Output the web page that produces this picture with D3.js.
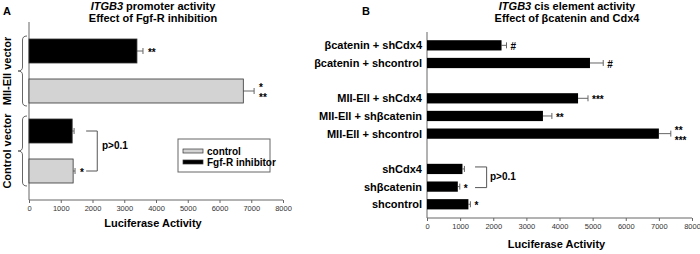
<!DOCTYPE html>
<html>
<head>
<meta charset="utf-8">
<script src="https://cdn.jsdelivr.net/npm/d3@7"></script>
<style>
  body { margin: 0; background: #fff; }
  svg { display: block; font-family: "Liberation Sans", Arial, sans-serif; }
  .tick text { font-size: 7.5px; fill: #333; font-weight: normal; }
  .axis path, .axis line { stroke: #666; }
  .lbl { font-weight: bold; font-size: 11px; fill: #000; }
  .mark { font-weight: bold; font-size: 10px; fill: #000; }
</style>
</head>
<body>
<div id="chart"></div>
<script>
// Panel A: ITGB3 promoter, grouped by vector
const aGroups = ["MII-Ell vector", "Control vector"];
const aSeries = ["Fgf-R inhibitor", "control"];
const aInhibitor = [3400, 1360];
const aInhibitorErr = [190, 60];
const aControl = [6750, 1390];
const aControlErr = [340, 60];
const aInhibitorMarks = ["**", ""];
const aControlMarks = ["*\n**", "*"];
const ticks = [0, 1000, 2000, 3000, 4000, 5000, 6000, 7000, 8000];

// Panel B: cis element, blank rows are gaps
const bCategories = ["βcatenin + shCdx4", "βcatenin + shcontrol", "gap1", "MII-Ell + shCdx4",
  "MII-Ell + shβcatenin", "MII-Ell + shcontrol", "gap2", "shCdx4", "shβcatenin", "shcontrol"];
const bValues = [2250, 4920, null, 4560, 3500, 7000, null, 1070, 930, 1250];
const bErr = [150, 400, null, 300, 270, 360, null, 60, 60, 60];
const bMarks = ["#", "#", null, "***", "**", "**\n***", null, "", "*", "*"];

const W = 700, H = 254;
const svg = d3.select("#chart").append("svg").attr("width", W).attr("height", H);

function brace(x, y0, y1, w) {
  const ym = (y0 + y1) / 2, xm = x - w / 2, r = 4;
  return `M${x},${y0} Q${xm},${y0} ${xm},${y0 + r} L${xm},${ym - r} Q${xm},${ym} ${x - w},${ym}` +
    ` Q${xm},${ym} ${xm},${ym + r} L${xm},${y1 - r} Q${xm},${y1} ${x},${y1}`;
}

function title(g, cx, italic, rest, line2) {
  const t = g.append("text").attr("class", "lbl").attr("x", cx).attr("y", 10).attr("text-anchor", "middle");
  t.append("tspan").attr("font-style", "italic").text(italic);
  t.append("tspan").text(rest);
  g.append("text").attr("class", "lbl").attr("x", cx).attr("y", 22).attr("text-anchor", "middle").text(line2);
}

// significance marks, stacked lines go in one text element
function marks(g, x, yc, txt) {
  const lines = txt.split("\n");
  const stacked = lines.length > 1;
  const t = g.append("text").attr("class", "mark").attr("font-size", stacked ? 8.5 : 10);
  lines.forEach((s, i) => {
    t.append("tspan").attr("x", x)
      .attr("y", yc + 6 + (i - (lines.length - 1) / 2) * 10).text(s);
  });
}

function errBar(g, x0, x1, yc, cap) {
  g.append("line").attr("x1", x0).attr("x2", x1).attr("y1", yc).attr("y2", yc).attr("stroke", "#666");
  g.append("line").attr("x1", x1).attr("x2", x1).attr("y1", yc - cap).attr("y2", yc + cap).attr("stroke", "#666");
}

// ---------- Panel A ----------
const gA = svg.append("g");
const xA = d3.scaleLinear().domain([0, 8000]).range([29, 283]);
const rowsA = [];
aGroups.forEach((grp, i) => {
  rowsA.push({ key: grp + "|inh", group: grp, v: aInhibitor[i], e: aInhibitorErr[i], m: aInhibitorMarks[i], fill: "#000" });
  rowsA.push({ key: grp + "|ctl", group: grp, v: aControl[i], e: aControlErr[i], m: aControlMarks[i], fill: "#d3d3d3" });
});
const yA = d3.scaleBand().domain(rowsA.map(d => d.key)).range([23, 199]).padding(0.4);

gA.append("text").attr("class", "lbl").attr("x", 3).attr("y", 15).attr("font-size", 13).text("A");
title(gA, 153, "ITGB3", " promoter activity", "Effect of Fgf-R inhibition");

gA.append("g").attr("class", "axis").attr("transform", "translate(0,200)")
  .call(d3.axisBottom(xA).tickValues(ticks).tickSize(3).tickPadding(3).tickFormat(d3.format("d")))
  .call(g => g.select(".domain").attr("d", `M${xA(0)},0H${xA(8000)}`));
gA.append("line").attr("x1", xA(0)).attr("x2", xA(0)).attr("y1", 22).attr("y2", 200).attr("stroke", "#666");
gA.append("text").attr("class", "lbl").attr("x", (xA(0) + xA(8000)) / 2 - 3).attr("y", 227)
  .attr("text-anchor", "middle").attr("font-size", 10.5).text("Luciferase Activity");

rowsA.forEach(d => {
  const yc = yA(d.key) + yA.bandwidth() / 2;
  errBar(gA, xA(d.v), xA(d.v + d.e), yc, 3);
});
gA.selectAll(".barA").data(rowsA).join("rect").attr("class", "barA")
  .attr("x", xA(0)).attr("y", d => yA(d.key))
  .attr("width", d => xA(d.v) - xA(0)).attr("height", yA.bandwidth())
  .attr("fill", d => d.fill).attr("stroke", "#333").attr("stroke-width", 0.8);
rowsA.forEach(d => {
  if (d.m) marks(gA, xA(d.v + d.e) + 5, yA(d.key) + yA.bandwidth() / 2 - 1, d.m);
});

// group braces and labels
aGroups.forEach((grp, i) => {
  const top = yA(grp + "|inh") - 3, bot = yA(grp + "|ctl") + yA.bandwidth() + 3;
  gA.append("path").attr("d", brace(27, top, bot, 9)).attr("fill", "none").attr("stroke", "#555").attr("stroke-width", 0.9);
  gA.append("text").attr("class", "lbl").attr("font-size", 9.8).attr("text-anchor", "middle")
    .attr("transform", `translate(11,${(top + bot) / 2}) rotate(-90)`).text(grp);
});

// p>0.1 bracket between control-vector bars
{
  const y0 = yA("Control vector|inh") + yA.bandwidth() / 2, y1 = yA("Control vector|ctl") + yA.bandwidth() / 2;
  gA.append("path").attr("d", `M${xA(1800)},${y0}H${xA(2150)}V${y1}H${xA(1800)}`)
    .attr("fill", "none").attr("stroke", "#555");
  gA.append("text").attr("class", "mark").attr("font-size", 9).attr("x", xA(2300)).attr("y", (y0 + y1) / 2 - 2).text("p>0.1");
}

// legend
{
  const lg = gA.append("g").attr("transform", "translate(178,139)");
  lg.append("rect").attr("width", 92).attr("height", 33).attr("fill", "#fff").attr("stroke", "#666");
  [["control", "#d3d3d3"], ["Fgf-R inhibitor", "#000"]].forEach(([name, c], i) => {
    lg.append("rect").attr("x", 5).attr("y", 10 + i * 11).attr("width", 20).attr("height", 4)
      .attr("fill", c).attr("stroke", "#333").attr("stroke-width", 0.7);
    lg.append("text").attr("class", "mark").attr("font-size", 9).attr("x", 29).attr("y", 15.5 + i * 11).text(name);
  });
}

// ---------- Panel B ----------
const gB = svg.append("g");
const xB = d3.scaleLinear().domain([0, 8000]).range([427, 692]);
const yB = d3.scaleBand().domain(bCategories).range([32.8, 216.8]).padding(0.42);

gB.append("text").attr("class", "lbl").attr("x", 362).attr("y", 15).attr("font-size", 13).text("B");
title(gB, 567, "ITGB3", " cis element activity", "Effect of βcatenin and Cdx4");

gB.append("g").attr("class", "axis").attr("transform", "translate(0,218)")
  .call(d3.axisBottom(xB).tickValues(ticks).tickSize(3).tickPadding(3).tickFormat(d3.format("d")))
  .call(g => g.select(".domain").attr("d", `M${xB(0)},0H${xB(8000)}`));
gB.append("line").attr("x1", xB(0)).attr("x2", xB(0)).attr("y1", 32).attr("y2", 218).attr("stroke", "#666");
gB.append("text").attr("class", "lbl").attr("x", (xB(0) + xB(8000)) / 2 - 3).attr("y", 248)
  .attr("text-anchor", "middle").attr("font-size", 10.5).text("Luciferase Activity");

const rowsB = bCategories.map((c, i) => ({ c, v: bValues[i], e: bErr[i], m: bMarks[i] })).filter(d => d.v != null);
rowsB.forEach(d => {
  const yc = yB(d.c) + yB.bandwidth() / 2;
  errBar(gB, xB(d.v), xB(d.v + d.e), yc, 3);
});
gB.selectAll(".barB").data(rowsB).join("rect").attr("class", "barB")
  .attr("x", xB(0)).attr("y", d => yB(d.c))
  .attr("width", d => xB(d.v) - xB(0)).attr("height", yB.bandwidth())
  .attr("fill", "#000");
rowsB.forEach(d => {
  const yc = yB(d.c) + yB.bandwidth() / 2;
  gB.append("text").attr("class", "lbl").attr("x", 422).attr("y", yc + 4).attr("text-anchor", "end").text(d.c);
  if (d.m) marks(gB, xB(d.v + d.e) + 4, yc - 1, d.m);
});

{
  const y0 = yB("shCdx4") + yB.bandwidth() / 2 - 2, y1 = yB("shβcatenin") + yB.bandwidth() / 2 + 1;
  gB.append("path").attr("d", `M${xB(1450)},${y0}H${xB(1800)}V${y1}H${xB(1450)}`)
    .attr("fill", "none").attr("stroke", "#555");
  gB.append("text").attr("class", "mark").attr("font-size", 9).attr("x", xB(1900)).attr("y", (y0 + y1) / 2 + 3).text("p>0.1");
}
</script>
</body>
</html>
